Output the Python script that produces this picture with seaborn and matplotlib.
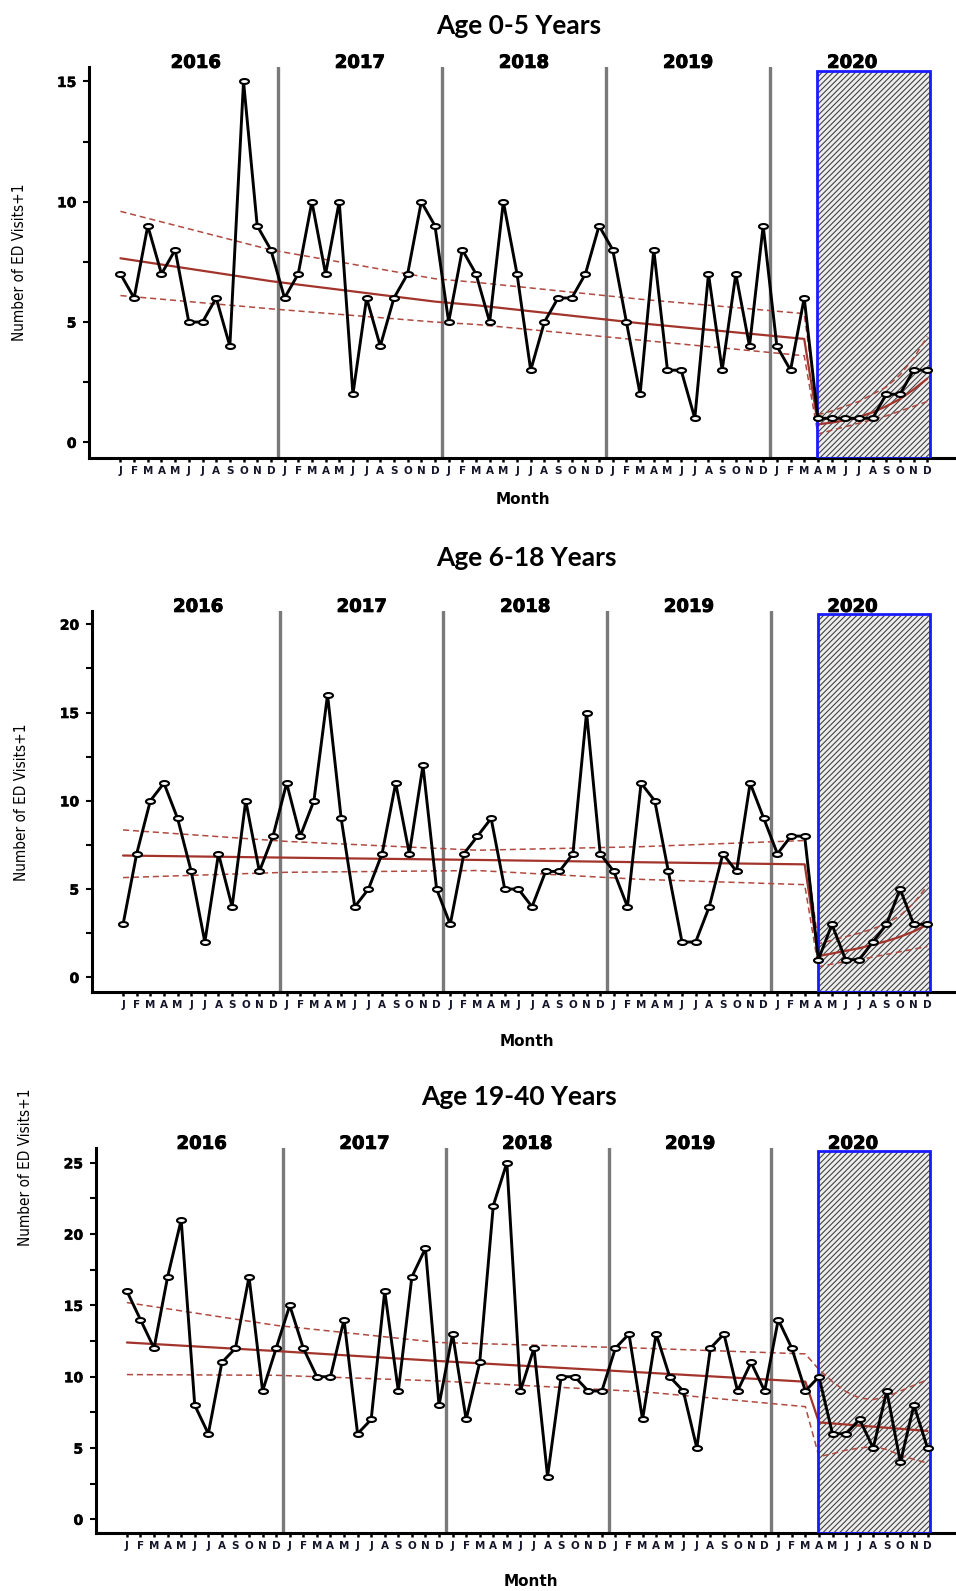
import numpy as np
import pandas as pd
import seaborn as sns
import matplotlib.pyplot as plt
from matplotlib.patches import Rectangle
from matplotlib.path import Path
from matplotlib.ticker import MultipleLocator
from matplotlib import font_manager
import matplotlib.transforms as mtransforms
import matplotlib.patheffects as pe

# Monatsbuchstaben und Jahre (Jan 2016 - Dez 2020)
month_letters = list("JFMAMJJASOND")
years = [2016, 2017, 2018, 2019, 2020]

age_0_5 = [7, 6, 9, 7, 8, 5, 5, 6, 4, 15, 9, 8,
           6, 7, 10, 7, 10, 2, 6, 4, 6, 7, 10, 9,
           5, 8, 7, 5, 10, 7, 3, 5, 6, 6, 7, 9,
           8, 5, 2, 8, 3, 3, 1, 7, 3, 7, 4, 9,
           4, 3, 6, 1, 1, 1, 1, 1, 2, 2, 3, 3]
age_6_18 = [3, 7, 10, 11, 9, 6, 2, 7, 4, 10, 6, 8,
            11, 8, 10, 16, 9, 4, 5, 7, 11, 7, 12, 5,
            3, 7, 8, 9, 5, 5, 4, 6, 6, 7, 15, 7,
            6, 4, 11, 10, 6, 2, 2, 4, 7, 6, 11, 9,
            7, 8, 8, 1, 3, 1, 1, 2, 3, 5, 3, 3]
age_19_40 = [16, 14, 12, 17, 21, 8, 6, 11, 12, 17, 9, 12,
             15, 12, 10, 10, 14, 6, 7, 16, 9, 17, 19, 8,
             13, 7, 11, 22, 25, 9, 12, 3, 10, 10, 9, 9,
             12, 13, 7, 13, 10, 9, 5, 12, 13, 9, 11, 9,
             14, 12, 9, 10, 6, 6, 7, 5, 9, 4, 8, 5]

# Modellkurve vor der Pandemie (Stützstellen: Monatsindex) und Apr-Dez 2020
pre_0_5_idx = [0, 11, 23, 26, 38, 50]
pre_0_5_fit = [7.65, 6.7, 5.85, 5.7, 4.95, 4.3]
pre_0_5_up = [9.6, 8.0, 6.8, 6.65, 5.95, 5.35]
pre_0_5_lo = [6.1, 5.55, 5.0, 4.9, 4.25, 3.6]
post_0_5_fit = [0.75, 0.82, 0.92, 1.05, 1.25, 1.5, 1.8, 2.2, 2.65]
post_0_5_up = [1.15, 1.3, 1.5, 1.7, 2.0, 2.3, 2.8, 3.5, 4.4]
post_0_5_lo = [0.35, 0.5, 0.65, 0.8, 0.95, 1.1, 1.3, 1.5, 1.7]

pre_6_18_idx = [0, 12, 26, 38, 50]
pre_6_18_fit = [6.9, 6.78, 6.65, 6.52, 6.4]
pre_6_18_up = [8.35, 7.7, 7.2, 7.4, 7.75]
pre_6_18_lo = [5.65, 5.95, 6.05, 5.55, 5.25]
post_6_18_fit = [1.2, 1.35, 1.5, 1.65, 1.85, 2.05, 2.3, 2.6, 3.0]
post_6_18_up = [1.9, 2.1, 2.3, 2.5, 2.75, 3.05, 3.5, 4.2, 5.2]
post_6_18_lo = [0.6, 0.75, 0.9, 1.0, 1.15, 1.3, 1.45, 1.6, 1.75]

pre_19_40_idx = [0, 11, 23, 38, 50]
pre_19_40_fit = [12.4, 11.8, 11.1, 10.3, 9.65]
pre_19_40_up = [15.2, 13.6, 12.4, 12.0, 11.6]
pre_19_40_lo = [10.15, 10.1, 9.7, 8.95, 7.9]
post_19_40_fit = [6.8, 6.72, 6.65, 6.57, 6.5, 6.42, 6.35, 6.27, 6.2]
post_19_40_up = [10.5, 9.65, 8.95, 8.5, 8.4, 8.6, 9.0, 9.4, 9.8]
post_19_40_lo = [4.4, 4.6, 4.85, 5.0, 5.1, 4.9, 4.5, 4.2, 3.95]

panels = [
    dict(title="Age 0-5 Years", values=age_0_5, pre_idx=pre_0_5_idx,
         fit=(pre_0_5_fit, post_0_5_fit), up=(pre_0_5_up, post_0_5_up),
         lo=(pre_0_5_lo, post_0_5_lo), ylim=(-0.65, 15.6), box_top=15.45,
         rect=[89 / 956, 1 - 458 / 1591, 1 - 89 / 956, 391 / 1591],
         title_xy=(519, 26), ylab_xy=(20, 262), month_xy=(523, 500)),
    dict(title="Age 6-18 Years", values=age_6_18, pre_idx=pre_6_18_idx,
         fit=(pre_6_18_fit, post_6_18_fit), up=(pre_6_18_up, post_6_18_up),
         lo=(pre_6_18_lo, post_6_18_lo), ylim=(-0.83, 20.75), box_top=20.6,
         rect=[91.7 / 956, 1 - 992 / 1591, 1 - 91.7 / 956, 381 / 1591],
         title_xy=(526, 558), ylab_xy=(22, 802), month_xy=(527, 1042)),
    dict(title="Age 19-40 Years", values=age_19_40, pre_idx=pre_19_40_idx,
         fit=(pre_19_40_fit, post_19_40_fit), up=(pre_19_40_up, post_19_40_up),
         lo=(pre_19_40_lo, post_19_40_lo), ylim=(-0.96, 26.04), box_top=25.8,
         rect=[95.7 / 956, 1 - 1533 / 1591, 1 - 95.7 / 956, 385 / 1591],
         title_xy=(519, 1097), ylab_xy=(26, 1167), month_xy=(531, 1582)),
]

sns.set_style("ticks")
plt.rcParams.update({
    'hatch.linewidth': 0.75,
    'text.color': 'black',
    'axes.labelcolor': 'black',
    'xtick.color': 'black',
    'ytick.color': 'black',
    'axes.edgecolor': 'black',
})

# schmale Schrift für die y-Beschriftung, falls vorhanden
fonts = {(f.name, f.stretch) for f in font_manager.fontManager.ttflist}
names = {f[0] for f in fonts}
if "Liberation Sans Narrow" in names:
    ylab_font = dict(family="Liberation Sans Narrow", fontsize=12)
elif any(n == "DejaVu Sans" and s == "condensed" for n, s in fonts):
    ylab_font = dict(family="DejaVu Sans", fontstretch="condensed", fontsize=11)
else:
    ylab_font = dict(family="Liberation Sans", fontsize=10)

bold_fx = [pe.withStroke(linewidth=0.7, foreground="black")]

# flache Ellipse als Marker
circ = Path.unit_circle()
ellipse = Path(circ.vertices * np.array([1.0, 0.55]), circ.codes)

month_idx = np.arange(60)
post_idx = list(range(51, 60))
red = "#a3342c"

fig = plt.figure(figsize=(9.56, 15.91), dpi=100)

for p in panels:
    ax = fig.add_axes(p["rect"])
    df = pd.DataFrame({"monat": month_idx, "wert": p["values"]})

    # 2020 Pandemie-Bereich (schraffiert, blauer Rahmen)
    ax.add_patch(Rectangle((50.95, p["ylim"][0]), 8.25, p["box_top"] - p["ylim"][0],
                           facecolor="#ededed", edgecolor="#3a3a3a", hatch="//////",
                           lw=0, zorder=1))
    ax.add_patch(Rectangle((50.95, p["ylim"][0]), 8.25, p["box_top"] - p["ylim"][0],
                           fill=False, edgecolor="#1a1aff", lw=2.0, zorder=4))

    # Jahrestrenner
    for b in [11.5, 23.5, 35.5, 47.5]:
        ax.axvline(b, color="#7a7a7a", lw=2.4, zorder=2)

    # Modellkurve + Konfidenzband
    xs = p["pre_idx"] + post_idx
    ax.plot(xs, p["fit"][0] + p["fit"][1], color=red, lw=1.6, zorder=3)
    for band in (p["up"], p["lo"]):
        ax.plot(xs, band[0] + band[1], color="#b04a40", lw=1.1,
                dashes=(4, 2.5), zorder=3)

    sns.lineplot(data=df, x="monat", y="wert", ax=ax, color="black", lw=2.1,
                 marker=ellipse, markersize=6.5, markerfacecolor="white",
                 markeredgecolor="black", markeredgewidth=1.5, zorder=5)

    ax.set_xlim(-2.3, 61.1)
    ax.set_ylim(*p["ylim"])
    ax.set_xticks(month_idx)
    ax.set_xticklabels(month_letters * 5, fontsize=7.5, fontweight="bold",
                       color="#15152a")
    ax.yaxis.set_major_locator(MultipleLocator(5))
    ax.yaxis.set_minor_locator(MultipleLocator(2.5))
    ax.tick_params(axis="y", which="both", length=4, width=1.5, pad=5,
                   labelsize=10, direction="out")
    ax.tick_params(axis="x", length=3, width=1.8, pad=3, direction="out")
    for lab in ax.get_yticklabels():
        lab.set_fontweight("bold")
        lab.set_path_effects([pe.withStroke(linewidth=0.4, foreground="black")])
    ax.set_xlabel("")
    ax.set_ylabel("")
    sns.despine(ax=ax)
    ax.spines["left"].set_linewidth(2.2)
    ax.spines["bottom"].set_linewidth(2.2)

    # Jahresbeschriftungen über der Achse
    trans = mtransforms.blended_transform_factory(ax.transData, ax.transAxes)
    for k, yr in enumerate(years):
        ax.annotate(str(yr), xy=(12 * k + 5.5, 1.0), xycoords=trans,
                    xytext=(0, 3), textcoords="offset points",
                    ha="center", va="center", fontsize=13, fontweight="bold",
                    path_effects=bold_fx, zorder=6)

    tx, ty = p["title_xy"]
    fig.text(tx / 956, 1 - ty / 1591, p["title"], ha="center", va="center",
             fontsize=19, fontweight="bold", family=["Lato", "DejaVu Sans"])
    lx, ly = p["ylab_xy"]
    fig.text(lx / 956, 1 - ly / 1591, "Number of ED Visits+1", rotation=90,
             ha="center", va="center", **ylab_font)
    mx, my = p["month_xy"]
    fig.text(mx / 956, 1 - my / 1591, "Month", ha="center", va="center",
             fontsize=11, fontweight="bold")

fig.savefig("out.png", dpi=100)
